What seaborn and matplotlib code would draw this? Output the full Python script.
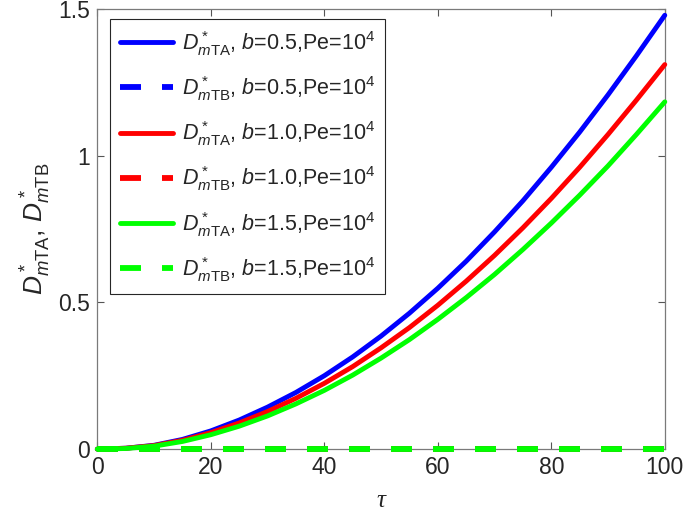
import numpy as np
import pandas as pd
import matplotlib
matplotlib.use('Agg')
import matplotlib.pyplot as plt
import seaborn as sns

# values
tau = [0, 5, 10, 15, 20, 25, 30, 35, 40, 45, 50, 55, 60, 65, 70, 75, 80, 85, 90, 95, 100]
dta_b05 = [0, 0.003, 0.013, 0.033, 0.062, 0.099, 0.143, 0.193, 0.250, 0.314, 0.385,
           0.463, 0.548, 0.640, 0.740, 0.846, 0.960, 1.080, 1.207, 1.340, 1.478]
dta_b10 = [0, 0.003, 0.012, 0.030, 0.056, 0.089, 0.128, 0.173, 0.224, 0.281, 0.345,
           0.414, 0.490, 0.572, 0.660, 0.754, 0.854, 0.960, 1.072, 1.189, 1.310]
dta_b15 = [0, 0.002, 0.010, 0.026, 0.049, 0.078, 0.113, 0.154, 0.200, 0.252, 0.310,
           0.373, 0.442, 0.516, 0.595, 0.680, 0.770, 0.865, 0.965, 1.072, 1.183]
dtb_zero = [0, 0, 0, 0, 0, 0, 0, 0, 0, 0, 0, 0, 0, 0, 0, 0, 0, 0, 0, 0, 0]
b_values = ['0.5', '1.0', '1.5']
colors = ['#0000ff', '#ff0000', '#00ff00']
x_ticks = [0, 20, 40, 60, 80, 100]
y_ticks = [0, 0.5, 1, 1.5]
y_ticklabels = ['0', '0.5', '1', '1.5']

sns.set_style('ticks')
plt.rcParams['font.family'] = ['Liberation Sans', 'DejaVu Sans']
plt.rcParams['mathtext.fontset'] = 'custom'
plt.rcParams['mathtext.rm'] = 'Liberation Sans'
plt.rcParams['mathtext.it'] = 'Liberation Sans:italic'
plt.rcParams['mathtext.bf'] = 'Liberation Sans:bold'

fig = plt.figure(figsize=(6.85, 5.18), dpi=100)
ax = fig.add_axes([0.1420, 0.133, 0.8285, 0.850])

ta_series = [dta_b05, dta_b10, dta_b15]
for b, c, ta in zip(b_values, colors, ta_series):
    sns.lineplot(x=tau, y=ta, ax=ax, color=c, linewidth=3.5, clip_on=False, zorder=3,
                 label=r'$D^*_{m\mathrm{TA}}$, $b$=' + b + r',Pe=10$^4$')
    sns.lineplot(x=tau, y=dtb_zero, ax=ax, color=c, linewidth=4.2, clip_on=False,
                 zorder=3, linestyle=(0, (3.6, 3.6)),
                 label=r'$D^*_{m\mathrm{TB}}$, $b$=' + b + r',Pe=10$^4$')

ax.set_xlim(0, 100)
ax.set_ylim(0, 1.5)
ax.set_xticks(x_ticks)
ax.set_yticks(y_ticks)
ax.set_yticklabels(y_ticklabels)

for s in ax.spines.values():
    s.set_visible(True)
    s.set_color('#7a7a7a')
    s.set_linewidth(0.9)
ax.tick_params(direction='in', length=5, width=0.8, color='#555555',
               labelsize=16.5, labelcolor='#262626', top=True, right=True, pad=5)

ax.set_xlabel('τ', fontsize=18, fontfamily='Liberation Serif', fontstyle='italic',
              color='#262626', labelpad=8)
ax.set_ylabel(r'$D^*_{m\mathrm{TA}}$, $D^*_{m\mathrm{TB}}$', fontsize=19,
              color='#262626', labelpad=4)

leg = ax.legend(loc='upper left', bbox_to_anchor=(0.0228, 0.977), borderaxespad=0,
                fontsize=15.5, frameon=True, fancybox=False, edgecolor='#262626',
                framealpha=1, handlelength=2.45, labelspacing=0.76, borderpad=0.45,
                handletextpad=0.45)
leg.get_frame().set_linewidth(0.8)
for t in leg.get_texts():
    t.set_color('#262626')

fig.savefig('out.png', dpi=100)
